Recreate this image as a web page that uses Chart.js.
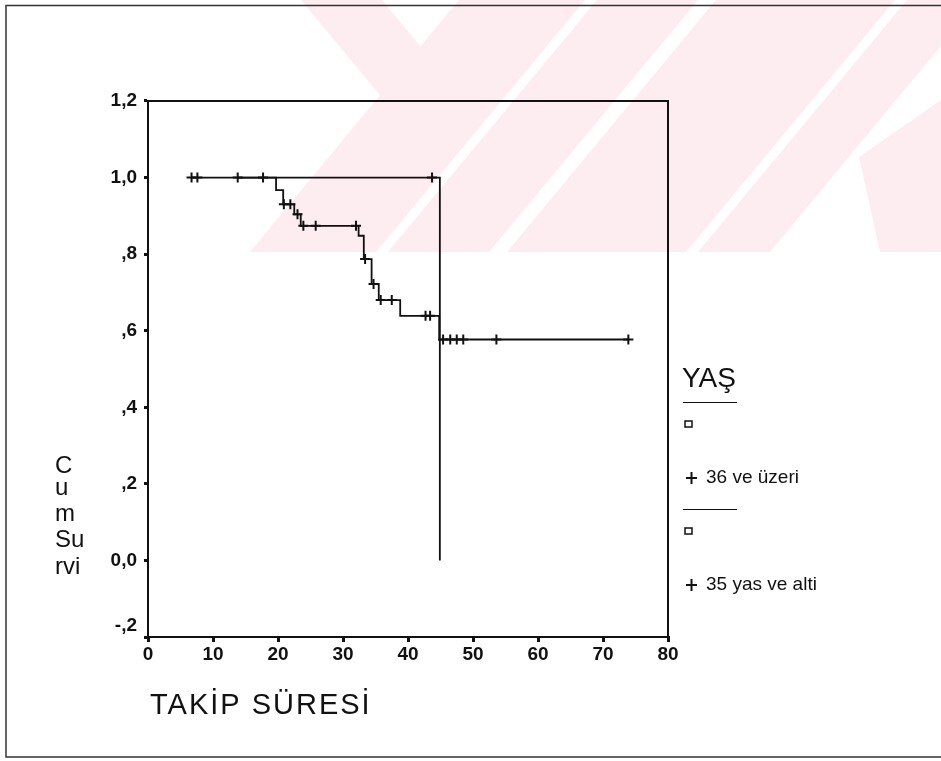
<!DOCTYPE html>
<html>
<head>
<meta charset="utf-8">
<script src="https://cdn.jsdelivr.net/npm/chart.js@4"></script>
<style>
  html, body { margin: 0; padding: 0; background: #fff; }
  canvas { display: block; }
</style>
</head>
<body>
<canvas id="km" width="941" height="761"></canvas>
<script>
// Kaplan-Meier, YAŞ gruplarına göre
const xTicks = [0, 10, 20, 30, 40, 50, 60, 70, 80];
const yTickLabels = ['-,2', '0,0', ',2', ',4', ',6', ',8', '1,0', '1,2'];

// grup 1 : 36 ve üzeri
const g1Times = [6.7, 44.9];
const g1Surv = [1.0, 0.0];
const g1CensorTimes = [6.7, 7.6, 43.7];
const g1CensorSurv = [1.0, 1.0, 1.0];

// grup 2 : 35 yas ve alti
const g2Times = [13.8, 19.7, 20.8, 22.5, 23.5, 32.4, 33.2, 34.4, 35.5, 38.8, 44.8, 73.9];
const g2Surv = [1.0, 0.967, 0.930, 0.904, 0.874, 0.848, 0.787, 0.722, 0.680, 0.639, 0.577, 0.577];
const g2CensorTimes = [13.8, 17.7, 20.9, 21.9, 23.0, 23.9, 25.8, 32.0, 33.4, 34.7, 35.8, 37.5, 42.7, 43.4, 45.4, 46.5, 47.5, 48.5, 53.6, 73.9];
const g2CensorSurv = [1.0, 1.0, 0.930, 0.930, 0.904, 0.874, 0.874, 0.874, 0.787, 0.722, 0.680, 0.680, 0.639, 0.639, 0.577, 0.577, 0.577, 0.577, 0.577, 0.577];

const groupLabels = ['36 ve üzeri', '35 yas ve alti'];

const FONT = '"Liberation Sans", Arial, sans-serif';

function pts(xs, ys) {
  return xs.map((x, i) => ({ x, y: ys[i] }));
}

function stepLine(label, xs, ys) {
  return {
    label,
    data: pts(xs, ys),
    showLine: true,
    stepped: true,
    borderColor: '#111',
    borderWidth: 1.8,
    pointRadius: 0,
  };
}

function censorMarks(label, xs, ys) {
  return {
    label,
    data: pts(xs, ys),
    showLine: false,
    pointStyle: 'cross',
    pointRadius: 5,
    pointBorderWidth: 2,
    pointBorderColor: '#111',
    borderColor: '#111',
  };
}

// arka plan + filigran + sayfa çerçevesi
const pagePlugin = {
  id: 'page',
  beforeDraw(chart) {
    const { ctx, width, height } = chart;
    ctx.save();
    ctx.fillStyle = '#fff';
    ctx.fillRect(0, 0, width, height);

    ctx.beginPath();
    ctx.rect(0, 0, width, 252);
    ctx.clip();
    ctx.fillStyle = 'rgb(253,237,240)';
    const shapes = [
      [[459, 0], [585, 0], [376, 252], [250, 252]],
      [[301, 0], [382, 0], [483, 122], [380, 95]],
      [[597, 0], [698, 0], [489, 252], [388, 252]],
      [[716, 0], [895, 0], [686, 252], [507, 252]],
      [[907, 0], [979, 0], [770, 252], [698, 252]],
      [[859, 157], [941, 100], [941, 252], [880, 252]],
    ];
    shapes.forEach((p) => {
      ctx.beginPath();
      ctx.moveTo(p[0][0], p[0][1]);
      p.slice(1).forEach(([x, y]) => ctx.lineTo(x, y));
      ctx.closePath();
      ctx.fill();
    });
    ctx.restore();

    ctx.save();
    ctx.strokeStyle = '#333';
    ctx.lineWidth = 1.5;
    ctx.beginPath();
    ctx.moveTo(941, 5.5);
    ctx.lineTo(6, 5.5);
    ctx.lineTo(6, 757);
    ctx.lineTo(941, 757);
    ctx.stroke();
    ctx.restore();
  },
  beforeDatasetsDraw(chart) {
    const { ctx, chartArea: a } = chart;
    ctx.save();
    ctx.strokeStyle = '#111';
    ctx.lineWidth = 2;
    ctx.strokeRect(a.left, a.top, a.right - a.left, a.bottom - a.top);
    ctx.restore();
  },
  afterDraw(chart) {
    const { ctx } = chart;
    ctx.save();
    ctx.fillStyle = '#111';
    ctx.strokeStyle = '#111';
    ctx.textBaseline = 'middle';
    ctx.textAlign = 'left';

    // dikey eksen başlığı
    ctx.font = `24px ${FONT}`;
    const yTitle = ['C', 'u', 'm', 'Su', 'rvi'];
    const yTitleY = [466, 488, 514, 540, 567];
    yTitle.forEach((t, i) => ctx.fillText(t, 55, yTitleY[i]));

    // yatay eksen başlığı
    ctx.font = `29px ${FONT}`;
    ctx.letterSpacing = '2px';
    ctx.fillText('TAKİP SÜRESİ', 150, 706);
    ctx.letterSpacing = '0px';

    // lejant
    ctx.font = `28px ${FONT}`;
    ctx.fillText('YAŞ', 682, 379);
    const rowY = [402, 509];
    ctx.font = `19px ${FONT}`;
    groupLabels.forEach((lab, i) => {
      const y0 = rowY[i];
      ctx.lineWidth = 1.2;
      ctx.beginPath();
      ctx.moveTo(683, y0 + 0.5);
      ctx.lineTo(737, y0 + 0.5);
      ctx.stroke();
      ctx.lineWidth = 1.5;
      ctx.strokeRect(685, y0 + 19, 7, 6);
      ctx.lineWidth = 2;
      ctx.beginPath();
      ctx.moveTo(686, y0 + 76);
      ctx.lineTo(697, y0 + 76);
      ctx.moveTo(691.5, y0 + 70);
      ctx.lineTo(691.5, y0 + 82);
      ctx.stroke();
      ctx.fillText(lab, 706, y0 + 76);
    });
    ctx.restore();
  },
};

const tickFont = { family: FONT, size: 19, weight: 'bold' };

new Chart(document.getElementById('km'), {
  type: 'scatter',
  data: {
    datasets: [
      stepLine(groupLabels[0], g1Times, g1Surv),
      censorMarks(groupLabels[0], g1CensorTimes, g1CensorSurv),
      stepLine(groupLabels[1], g2Times, g2Surv),
      censorMarks(groupLabels[1], g2CensorTimes, g2CensorSurv),
    ],
  },
  options: {
    responsive: false,
    animation: false,
    devicePixelRatio: 1,
    layout: { padding: { left: 100, right: 273, top: 101, bottom: 94 } },
    plugins: {
      legend: { display: false },
      tooltip: { enabled: false },
    },
    scales: {
      x: {
        type: 'linear',
        min: xTicks[0],
        max: xTicks[xTicks.length - 1],
        afterBuildTicks(scale) {
          scale.ticks = xTicks.map((v) => ({ value: v }));
        },
        ticks: { color: '#111', font: tickFont, padding: 1, maxRotation: 0, autoSkip: false },
        grid: { drawOnChartArea: false, drawTicks: true, tickLength: 5, lineWidth: 3, color: '#111' },
        border: { display: true, color: '#111', width: 2 },
        afterFit(scale) { scale.height = 30; },
      },
      y: {
        min: -0.2,
        max: 1.2,
        afterBuildTicks(scale) {
          scale.ticks = yTickLabels.map((_, i) => ({ value: -0.2 + i * 0.2 }));
        },
        ticks: {
          color: '#111',
          font: tickFont,
          padding: 7,
          autoSkip: false,
          // en alttaki etiket SPSS'teki gibi biraz yukarıda
          callback: (v, i) => (i === 0 ? [yTickLabels[i], ''] : yTickLabels[i]),
        },
        grid: { drawOnChartArea: false, drawTicks: true, tickLength: 4, lineWidth: 3, color: '#111' },
        border: { display: true, color: '#111', width: 2 },
        afterFit(scale) { scale.width = 48; },
      },
    },
  },
  plugins: [pagePlugin],
});
</script>
</body>
</html>
